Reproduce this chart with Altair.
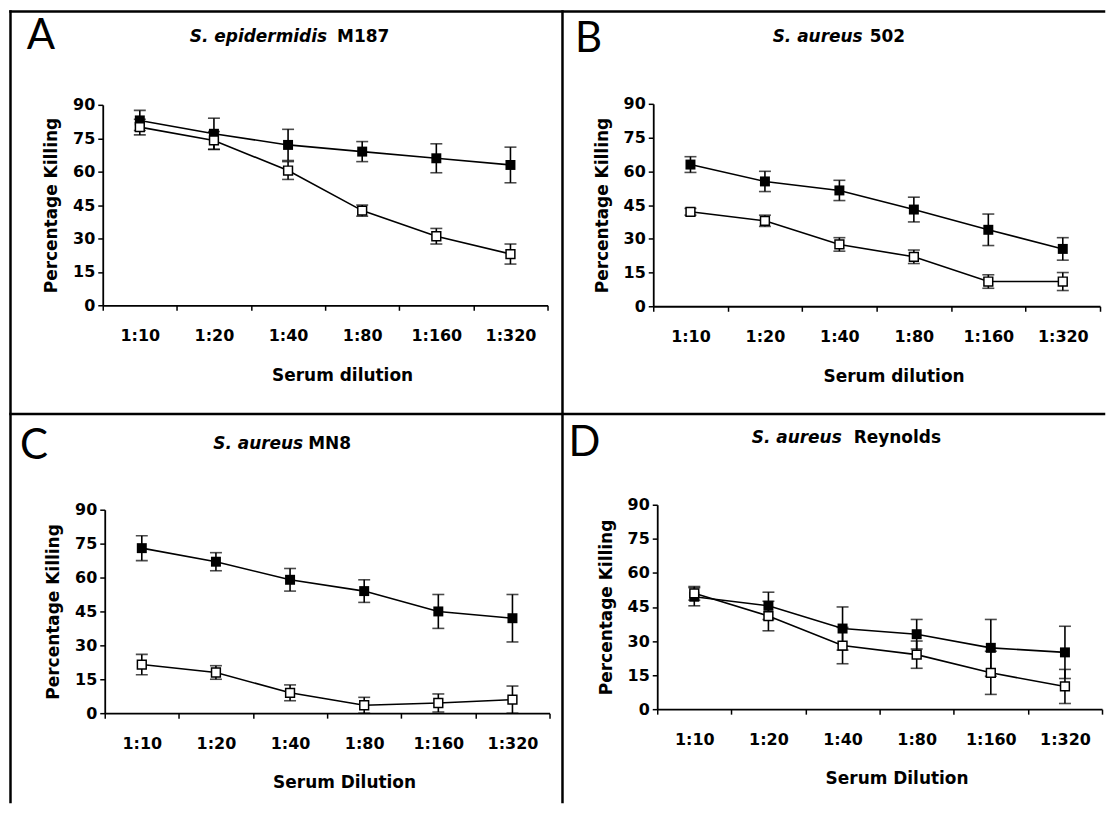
import altair as alt
import pandas as pd

categories = ["1:10", "1:20", "1:40", "1:80", "1:160", "1:320"]
y_ticks = [0, 15, 30, 45, 60, 75, 90]

a_filled = [83, 77, 72, 69, 66, 63]
a_filled_err = [4.5, 7, 7, 4.5, 6.5, 8]
a_open = [80, 74, 60.5, 42.5, 31, 23]
a_open_err = [3.5, 4, 4, 2.5, 3.5, 4.5]

b_filled = [63, 55.5, 51.5, 43, 34, 25.5]
b_filled_err = [3.5, 4.5, 4.5, 5.5, 7, 5]
b_open = [42, 38, 27.5, 22, 11, 11]
b_open_err = [1.5, 2.5, 3, 3, 3, 4]

c_filled = [73, 67, 59, 54, 45, 42]
c_filled_err = [5.5, 4, 5, 5, 7.5, 10.5]
c_open = [21.5, 18, 9, 3.5, 4.5, 6]
c_open_err = [4.5, 3, 3.5, 3.5, 4, 6]

d_filled = [49.5, 45.5, 35.5, 33, 27, 25]
d_filled_err = [4, 6, 9.5, 6.5, 12.5, 11.5]
d_open = [51, 41, 28, 24, 16, 10]
d_open_err = [3, 6.5, 8, 6, 9.5, 7.5]

W, H = 1098, 794
BW = 2.5
FONT = "DejaVu Sans"
one = pd.DataFrame({"k": [0]})


def make_df(filled, ferr, opn, oerr):
    rows = []
    for i, c in enumerate(categories):
        rows.append(dict(dilution=c, idx=i, series="filled", mean=filled[i],
                         lo=filled[i] - ferr[i], hi=filled[i] + ferr[i]))
    for i, c in enumerate(categories):
        rows.append(dict(dilution=c, idx=i, series="open", mean=opn[i],
                         lo=max(0, opn[i] - oerr[i]), hi=opn[i] + oerr[i]))
    return pd.DataFrame(rows)


def hline(x1, x2, y):
    return alt.Chart(one).mark_rule(color="black", strokeWidth=BW, strokeCap="square").encode(
        x=alt.value(x1), x2=alt.value(x2), y=alt.value(y))


def vline(x, y1, y2):
    return alt.Chart(one).mark_rule(color="black", strokeWidth=BW, strokeCap="square").encode(
        x=alt.value(x), y=alt.value(y1), y2=alt.value(y2))


def panel(df, x0, y0, w, h, letter, lxy, italic, plain, ty, it_right, pl_left, xtitle):
    deco = [
        alt.Chart(one).mark_text(
            text=letter, font="Lato", fontSize=42, fontWeight=400, align="center",
            baseline="alphabetic", color="black").encode(x=alt.value(lxy[0]), y=alt.value(lxy[1])),
        alt.Chart(one).mark_text(
            text=italic, font=FONT, fontSize=17, fontWeight="bold", fontStyle="italic",
            align="right", baseline="alphabetic", color="black").encode(
            x=alt.value(it_right), y=alt.value(ty)),
        alt.Chart(one).mark_text(
            text=plain, font=FONT, fontSize=17, fontWeight="bold",
            align="left", baseline="alphabetic", color="black").encode(
            x=alt.value(pl_left), y=alt.value(ty)),
    ]

    x = alt.X("dilution:N", sort=categories,
              scale=alt.Scale(type="band", paddingInner=0, paddingOuter=0, range=[x0, x0 + w]),
              axis=alt.Axis(orient="bottom", offset=y0 + h - H, tickBand="extent", labelAngle=0,
                            labelPadding=17, titlePadding=24, titleX=x0 + w / 2 + 17),
              title=xtitle)
    yscale = alt.Scale(domain=[0, 90], nice=False, range=[y0 + h, y0])
    yaxis = alt.Axis(orient="left", offset=-x0, values=y_ticks, labelPadding=3,
                     titlePadding=12, grid=False)
    ym = alt.Y("mean:Q", scale=yscale, axis=yaxis, title="Percentage Killing")
    ylo = alt.Y("lo:Q", scale=yscale, axis=yaxis, title="Percentage Killing")
    yhi = alt.Y("hi:Q", scale=yscale, axis=yaxis, title="Percentage Killing")

    base = alt.Chart(df)
    err = base.mark_rule(color="black", strokeWidth=1.6).encode(x=x, y=ylo, y2="hi:Q")
    cap_lo = base.mark_tick(color="black", thickness=1.6, size=12, orient="horizontal").encode(x=x, y=ylo)
    cap_hi = base.mark_tick(color="black", thickness=1.6, size=12, orient="horizontal").encode(x=x, y=yhi)
    line = base.mark_line(color="black", strokeWidth=1.6).encode(
        x=x, y=ym, detail="series:N", order="idx:Q")
    pf = base.transform_filter(alt.datum.series == "filled").mark_point(
        shape="square", filled=True, color="black", size=100, opacity=1).encode(x=x, y=ym)
    po = base.transform_filter(alt.datum.series == "open").mark_point(
        shape="square", filled=True, fill="white", stroke="black", strokeWidth=1.5,
        size=78, opacity=1).encode(x=x, y=ym)
    return alt.layer(*deco, err, cap_lo, cap_hi, line, pf, po)


pa = panel(make_df(a_filled, a_filled_err, a_open, a_open_err), 94, 95, 446, 201,
           "A", (32, 39), "S. epidermidis", "M187", 32, 319, 329, "Serum dilution")
pb = panel(make_df(b_filled, b_filled_err, b_open, b_open_err), 646, 94, 448, 203,
           "B", (581, 42), "S. aureus", "502", 32, 856, 863, "Serum dilution")
pc = panel(make_df(c_filled, c_filled_err, c_open, c_open_err), 96, 501, 446, 204,
           "C", (25, 450), "S. aureus", "MN8", 440, 295, 300, "Serum Dilution")
pd_ = panel(make_df(d_filled, d_filled_err, d_open, d_open_err), 650, 496, 446, 205,
            "D", (577, 447), "S. aureus", "Reynolds", 434, 835, 847, "Serum Dilution")

frame = [
    hline(1.5, W, 1.5),
    vline(1.5, 1.5, H),
    vline(555, 1.5, H),
    hline(1.5, W, 405),
]

chart = alt.layer(*frame, pa, pb, pc, pd_).resolve_scale(
    x="independent", y="independent"
).resolve_axis(
    x="independent", y="independent"
).properties(
    width=W, height=H, padding=0
).configure_view(
    stroke="transparent"
).configure_axis(
    domainColor="black", domainWidth=1.8, tickColor="black", tickWidth=1.5, tickSize=5,
    labelColor="black", labelFont=FONT, labelFontWeight="bold", labelFontSize=16,
    titleColor="black", titleFont=FONT, titleFontWeight="bold", titleFontSize=17,
    grid=False
)

chart.save("out.html", embed_options={"renderer": "svg", "actions": False})
